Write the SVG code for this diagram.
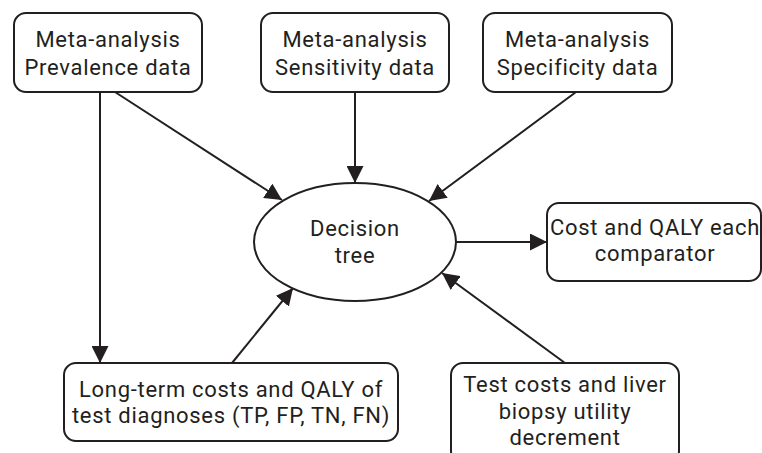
<svg xmlns="http://www.w3.org/2000/svg" width="762" height="453" viewBox="0 0 762 453">
<style>
.box{fill:#fff;stroke:#231f20;stroke-width:2}
.t{font-family:Roboto,"Open Sans",sans-serif;font-size:22px;letter-spacing:0.7px;fill:#231f20;text-anchor:middle}
.c{stroke:#231f20;stroke-width:2;fill:none;marker-end:url(#ah)}
</style>
<defs>
<marker id="ah" markerUnits="userSpaceOnUse" markerWidth="17" markerHeight="17" refX="17" refY="8.5" orient="auto" viewBox="0 0 17 17">
<path d="M0,0 L17,8.5 L0,17 z" fill="#231f20"/>
</marker>
</defs>
<rect width="762" height="453" fill="#fff"/>
<g id="connectors">
<line class="c" x1="100" y1="92" x2="100" y2="363"/>
<line class="c" x1="115" y1="92" x2="282" y2="200"/>
<line class="c" x1="355" y1="92" x2="355" y2="183"/>
<line class="c" x1="576" y1="92" x2="429" y2="201"/>
<line class="c" x1="232" y1="363" x2="293" y2="288"/>
<line class="c" x1="565" y1="363" x2="442" y2="273"/>
<line class="c" x1="456" y1="242" x2="547" y2="242"/>
</g>
<g id="prevalence">
<rect class="box" x="14" y="13" width="188" height="79" rx="12"/>
<text class="t" x="108" y="47">Meta-analysis</text>
<text class="t" x="108" y="75">Prevalence data</text>
</g>
<g id="sensitivity">
<rect class="box" x="261" y="13" width="188" height="79" rx="12"/>
<text class="t" x="355" y="47">Meta-analysis</text>
<text class="t" x="355" y="75">Sensitivity data</text>
</g>
<g id="specificity">
<rect class="box" x="483" y="13" width="189" height="79" rx="12"/>
<text class="t" x="577.5" y="47">Meta-analysis</text>
<text class="t" x="577.5" y="75">Specificity data</text>
</g>
<g id="decision">
<ellipse class="box" cx="355" cy="242" rx="101" ry="59"/>
<text class="t" x="355" y="236">Decision</text>
<text class="t" x="355" y="263">tree</text>
</g>
<g id="cost">
<rect class="box" x="547" y="203" width="214" height="78" rx="12"/>
<text class="t" x="655" y="235">Cost and QALY each</text>
<text class="t" x="655" y="261">comparator</text>
</g>
<g id="longterm">
<rect class="box" x="64" y="363" width="334" height="78" rx="12"/>
<text class="t" x="231" y="397">Long-term costs and QALY of</text>
<text class="t" x="231" y="423">test diagnoses (TP, FP, TN, FN)</text>
</g>
<g id="testcosts">
<rect class="box" x="451" y="363" width="228" height="100" rx="12"/>
<text class="t" x="565" y="392">Test costs and liver</text>
<text class="t" x="565" y="419">biopsy utility</text>
<text class="t" x="565" y="445">decrement</text>
</g>
</svg>
